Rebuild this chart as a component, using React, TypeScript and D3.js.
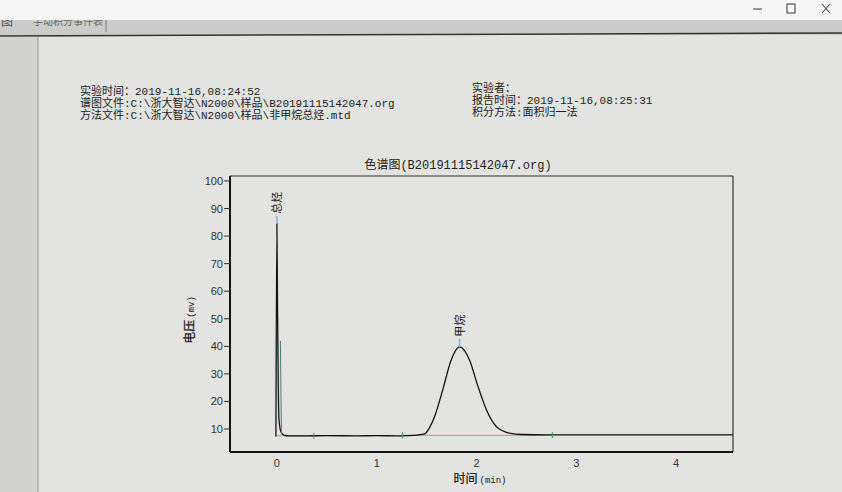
import React from "react";
import * as d3 from "d3";

const headerLeft = [
  "实验时间：2019-11-16,08:24:52",
  "谱图文件:C:\\浙大智达\\N2000\\样品\\B20191115142047.org",
  "方法文件:C:\\浙大智达\\N2000\\样品\\非甲烷总烃.mtd",
];
const headerRight = ["实验者：", "报告时间：2019-11-16,08:25:31", "积分方法:面积归一法"];
const chartTitle = "色谱图(B20191115142047.org)";

const yTicks = [10, 20, 30, 40, 50, 60, 70, 80, 90, 100];
const xTicks = [0, 1, 2, 3, 4];

// main detector trace (time in min, signal in mV)
const traceTime = [-0.01, 0.0, 0.006, 0.02, 0.04, 0.07, 0.12, 0.3, 0.5, 0.8, 1.0, 1.2, 1.3, 1.4, 1.48, 1.53, 1.58, 1.67, 1.74, 1.83, 1.93, 2.01, 2.1, 2.2, 2.27, 2.34, 2.45, 2.7, 3.0, 3.5, 4.0, 4.57];
const traceMv = [7.3, 84.5, 55, 14, 9, 7.8, 7.5, 7.5, 7.6, 7.5, 7.6, 7.5, 7.6, 7.8, 8.2, 10.5, 14.5, 25.3, 34.4, 39.8, 35, 26, 16.9, 10.8, 9.2, 8.4, 8.0, 7.9, 7.9, 7.9, 7.9, 7.9];

// secondary thin trace near the first peak
const overlayTime = [0.035, 0.045];
const overlayMv = [42, 8];

// integration baselines
const baseStart = [-0.01, 1.26];
const baseEnd = [0.37, 2.76];
const baseMv = [7.5, 7.7];
const markerTimes = [0.37, 1.26, 2.76];
const markerMv = [7.5, 7.7, 7.8];

const peakNames = ["总烃", "甲烷"];
const peakTimes = [0.0, 1.83];
const peakMv = [84.5, 39.8];

const W = 842;
const H = 492;
const plot = { left: 230, right: 733, top: 176, bottom: 452 };

export default function App() {
  const x = d3.scaleLinear().domain([-0.47, 4.57]).range([plot.left, plot.right]);
  const y = d3.scaleLinear().domain([1.65, 101.8]).range([plot.bottom, plot.top]);

  const line = d3
    .line<number>()
    .x((_, i) => x(traceTime[i]))
    .y((d) => y(d))
    .curve(d3.curveMonotoneX);
  const overlay = d3
    .line<number>()
    .x((_, i) => x(overlayTime[i]))
    .y((d) => y(d));

  const cjk = '"Noto Sans CJK SC", sans-serif';
  const mixed = '"Liberation Mono", "Noto Sans CJK SC", monospace';

  return (
    <div style={{ position: "fixed", left: 0, top: 0 }}>
      <svg width={W} height={H} style={{ display: "block" }}>
        <rect x={0} y={0} width={W} height={H} fill="#e3e3e1" />
        {/* tab bar */}
        <rect x={0} y={20} width={W} height={15} fill="#cbcbc9" />
        <text x={1} y={26} fontSize={12} fontFamily={cjk} fill="#555">图</text>
        <text x={33} y={25} fontSize={10} fontFamily={cjk} fill="#666">手动积分事件表</text>
        <line x1={106} y1={20} x2={106} y2={32} stroke="#777" />
        <line x1={0} y1={36} x2={W} y2={33} stroke="#333" strokeWidth={1.5} />
        {/* title bar */}
        <rect x={0} y={0} width={W} height={20} fill="#f6f6f6" />
        <g stroke="#333" strokeWidth={1} fill="none">
          <line x1={753} y1={9} x2={762} y2={9} />
          <rect x={787} y={4} width={8} height={9} />
          <line x1={822} y1={4} x2={830} y2={13} />
          <line x1={830} y1={4} x2={822} y2={13} />
        </g>
        {/* left strip */}
        <rect x={0} y={37} width={38} height={H - 37} fill="#d2d2d0" />
        <line x1={38} y1={37} x2={38} y2={H} stroke="#9a9a98" />

        {/* header info */}
        <g fontFamily={mixed} fontSize={11} fill="#222">
          {headerLeft.map((t, i) => (
            <text key={t} x={80} y={95 + i * 12}>{t}</text>
          ))}
          {headerRight.map((t, i) => (
            <text key={t} x={472} y={92 + i * 12}>{t}</text>
          ))}
        </g>

        {/* chart title */}
        <text x={458} y={169} textAnchor="middle" fontFamily={mixed} fontSize={12} fill="#222">
          {chartTitle}
        </text>

        {/* plot frame */}
        <line x1={plot.left} y1={plot.top} x2={plot.right} y2={plot.top} stroke="#333" strokeWidth={1.2} />
        <line x1={plot.right} y1={plot.top} x2={plot.right} y2={plot.bottom} stroke="#333" strokeWidth={1.2} />
        <line x1={plot.left} y1={plot.top} x2={plot.left} y2={plot.bottom} stroke="#111" strokeWidth={2} />
        <line x1={plot.left} y1={plot.bottom} x2={plot.right} y2={plot.bottom} stroke="#111" strokeWidth={2} />

        {/* ticks */}
        <g fontFamily="Liberation Sans, Arial, sans-serif" fontSize={11} fill="#333">
          {yTicks.map((t) => (
            <g key={t}>
              <line x1={plot.left - 6} x2={plot.left} y1={y(t)} y2={y(t)} stroke="#333" />
              <text x={plot.left - 7} y={y(t) + 4} textAnchor="end">{t}</text>
            </g>
          ))}
          {xTicks.map((t) => (
            <text key={t} x={x(t)} y={plot.bottom + 15} textAnchor="middle">{t}</text>
          ))}
        </g>

        {/* axis titles */}
        <text transform={`translate(194,320) rotate(-90)`} textAnchor="middle" fontFamily={cjk} fontSize={12} fontWeight={500} fill="#222">
          电压<tspan fontSize={9} fontWeight={400} fontFamily="Liberation Mono, monospace" dx={2}>(mv)</tspan>
        </text>
        <text x={480} y={483} textAnchor="middle" fontFamily={cjk} fontSize={12} fontWeight={500} fill="#222">
          时间<tspan fontSize={9} fontWeight={400} fontFamily="Liberation Mono, monospace" dx={2}>(min)</tspan>
        </text>

        {/* integration baselines */}
        {baseStart.map((s, i) => (
          <line key={i} x1={x(s)} x2={x(baseEnd[i])} y1={y(baseMv[i])} y2={y(baseMv[i])} stroke="#d98a80" strokeWidth={1} />
        ))}

        {/* trace */}
        <path d={line(traceMv) || ""} fill="none" stroke="#111" strokeWidth={1.3} />
        <path d={overlay(overlayMv) || ""} fill="none" stroke="#3f7f78" strokeWidth={1} />

        {/* event markers */}
        {markerTimes.map((t, i) => (
          <line key={t} x1={x(t)} x2={x(t)} y1={y(markerMv[i]) - 3} y2={y(markerMv[i]) + 3} stroke="#3a9a4a" strokeWidth={1} />
        ))}

        {/* peak labels */}
        {peakNames.map((n, i) => (
          <g key={n}>
            <line x1={x(peakTimes[i])} x2={x(peakTimes[i])} y1={y(peakMv[i])} y2={y(peakMv[i]) - 8} stroke="#7fb0e0" strokeWidth={1.5} />
            <text
              transform={`translate(${x(peakTimes[i]) + 4},${y(peakMv[i]) - 10}) rotate(-90)`}
              fontFamily={cjk}
              fontSize={11}
              fill="#222"
            >
              {n}
            </text>
          </g>
        ))}
      </svg>
    </div>
  );
}
